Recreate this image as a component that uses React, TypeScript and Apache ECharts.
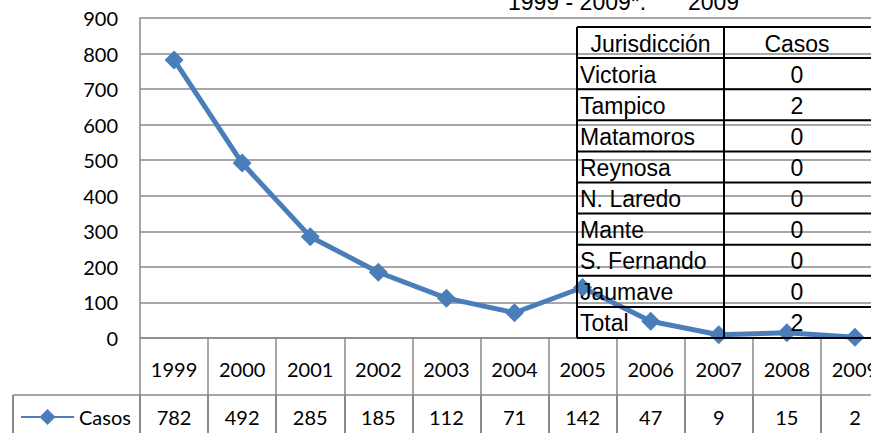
import React, { useEffect, useRef } from "react";
import * as echarts from "echarts";

const categories = ["1999", "2000", "2001", "2002", "2003", "2004", "2005", "2006", "2007", "2008", "2009"];
const casos = [782, 492, 285, 185, 112, 71, 142, 47, 9, 15, 2];
const seriesName = "Casos";
const jurisdicciones = ["Victoria", "Tampico", "Matamoros", "Reynosa", "N. Laredo", "Mante", "S. Fernando", "Jaumave", "Total"];
const casosJurisdiccion = [0, 2, 0, 0, 0, 0, 0, 0, 2];
const tableHeaders = ["Jurisdicción", "Casos"];
const titleParts = ["1999 - 2009*.", "2009"];
const yMin = 0;
const yMax = 900;
const yInterval = 100;

const GRAY = "#8a8a8a";
const BLUE = "#4a7ebb";
const LABEL_FONT = "Lato, 'Open Sans', sans-serif";
const TABLE_FONT = "'Liberation Sans', Arial, sans-serif";

function buildTable() {
  const x0 = 577;
  const x1 = 724;
  const x2 = 873;
  const top = 27;
  const rowH = 31.1;
  const rows = jurisdicciones.length + 1;
  const els: any[] = [];
  for (let r = 0; r <= rows; r++) {
    const y = top + r * rowH;
    els.push({ type: "line", z: 100, shape: { x1: x0, y1: y, x2: x2, y2: y }, style: { stroke: "#000", lineWidth: 2 } });
  }
  const bottom = top + rows * rowH;
  [x0, x1].forEach((x) =>
    els.push({ type: "line", z: 100, shape: { x1: x, y1: top, x2: x, y2: bottom }, style: { stroke: "#000", lineWidth: 2 } })
  );
  const font = { fontFamily: TABLE_FONT, fontSize: 23, fill: "#000" };
  els.push({ type: "text", z: 101, style: { ...font, text: tableHeaders[0], x: (x0 + x1) / 2, y: top + rowH / 2 + 1, align: "center", verticalAlign: "middle" } });
  els.push({ type: "text", z: 101, style: { ...font, text: tableHeaders[1], x: 797, y: top + rowH / 2 + 1, align: "center", verticalAlign: "middle" } });
  jurisdicciones.forEach((j, i) => {
    const cy = top + (i + 1.5) * rowH + 1;
    els.push({ type: "text", z: 101, style: { ...font, text: j, x: x0 + 3, y: cy, align: "left", verticalAlign: "middle" } });
    els.push({ type: "text", z: 101, style: { ...font, text: String(casosJurisdiccion[i]), x: 797, y: cy, align: "center", verticalAlign: "middle" } });
  });
  return els;
}

export default function App() {
  const ref = useRef<HTMLDivElement>(null);
  useEffect(() => {
    if (!ref.current) return;
    const chart = echarts.init(ref.current, null, { renderer: "svg" });
    const axisLabel = { fontFamily: LABEL_FONT, fontSize: 20, color: "#000" };
    chart.setOption({
      animation: false,
      backgroundColor: "#fff",
      grid: { left: 140, right: 11, top: 18, bottom: 95, containLabel: false },
      legend: {
        data: [seriesName],
        left: 20,
        top: 407,
        padding: 0,
        itemWidth: 53,
        itemHeight: 20,
        itemGap: 5,
        textStyle: { ...axisLabel, fontSize: 20 },
      },
      xAxis: [
        {
          type: "category",
          data: categories,
          position: "bottom",
          boundaryGap: true,
          axisLine: { show: true, lineStyle: { color: GRAY, width: 1.5 } },
          axisTick: { show: true, length: 57, lineStyle: { color: GRAY, width: 1.5 } },
          axisLabel: { ...axisLabel, margin: 21, interval: 0 },
          splitLine: { show: false },
        },
        {
          type: "category",
          data: categories,
          position: "bottom",
          offset: 57,
          boundaryGap: true,
          axisLine: { show: true, lineStyle: { color: GRAY, width: 1.5 } },
          axisTick: { show: true, length: 50, lineStyle: { color: GRAY, width: 2 } },
          axisLabel: {
            ...axisLabel,
            margin: 12,
            interval: 0,
            formatter: (_v: string, i: number) => String(casos[i]),
          },
          splitLine: { show: false },
        },
      ],
      yAxis: {
        type: "value",
        min: yMin,
        max: yMax,
        interval: yInterval,
        axisLine: { show: true, lineStyle: { color: GRAY, width: 1.5 } },
        axisTick: { show: false },
        axisLabel: { ...axisLabel, margin: 22 },
        splitLine: { show: true, lineStyle: { color: GRAY, width: 1.5 } },
      },
      series: [
        {
          name: seriesName,
          type: "line",
          data: casos,
          symbol: "diamond",
          symbolSize: 19,
          lineStyle: { color: BLUE, width: 5 },
          itemStyle: { color: BLUE },
          z: 5,
        },
      ],
      graphic: [
        { type: "line", shape: { x1: 13, y1: 395, x2: 141, y2: 395 }, style: { stroke: GRAY, lineWidth: 1.5 } },
        { type: "line", shape: { x1: 13, y1: 395, x2: 13, y2: 440 }, style: { stroke: GRAY, lineWidth: 2 } },
        { type: "text", style: { text: titleParts[0], x: 508, y: 2, align: "left", verticalAlign: "middle", fontFamily: TABLE_FONT, fontSize: 23, fill: "#000" } },
        { type: "text", style: { text: titleParts[1], x: 688, y: 2, align: "left", verticalAlign: "middle", fontFamily: TABLE_FONT, fontSize: 23, fill: "#000" } },
        ...buildTable(),
      ],
    });
    return () => chart.dispose();
  }, []);
  return (
    <div style={{ position: "fixed", left: 0, top: 0, width: 871, height: 433, overflow: "hidden", background: "#fff" }}>
      <div ref={ref} style={{ width: 900, height: 433 }} />
    </div>
  );
}
